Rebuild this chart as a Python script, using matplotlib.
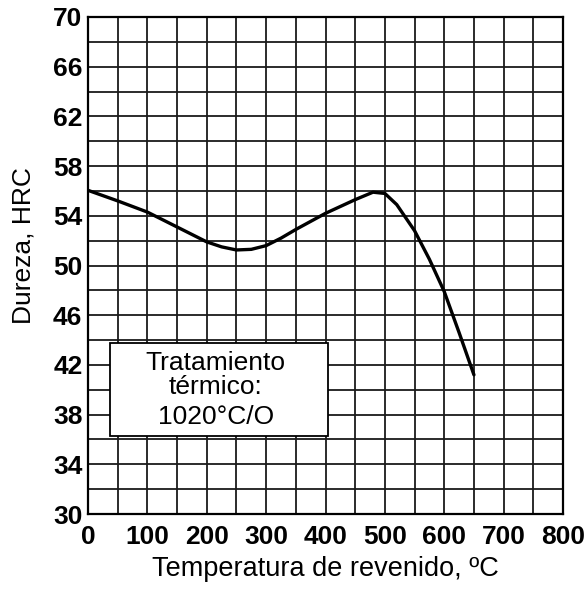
import matplotlib.pyplot as plt
from matplotlib.patches import Rectangle

# Curva de dureza vs temperatura de revenido
temperatura = [0, 50, 100, 150, 200, 225, 250, 275, 300, 325, 350, 400, 450,
               480, 500, 520, 550, 575, 600, 625, 650]
dureza = [56.05, 55.2, 54.3, 53.1, 51.9, 51.5, 51.25, 51.3, 51.6, 52.2, 52.9,
          54.2, 55.3, 55.9, 55.8, 54.9, 52.8, 50.5, 47.9, 44.6, 41.2]

x_ticks = [0, 100, 200, 300, 400, 500, 600, 700, 800]
y_ticks = [30, 34, 38, 42, 46, 50, 54, 58, 62, 66, 70]

plt.rcParams["font.family"] = ["Liberation Sans", "DejaVu Sans"]

fig = plt.figure(figsize=(5.85, 5.89), dpi=100)
ax = fig.add_axes([88 / 585, 1 - 514 / 589, 475 / 585, 497 / 589])

ax.set_xlim(0, 800)
ax.set_ylim(30, 70)

# Cuadrícula: cada 50 °C y cada 2 HRC
for xv in range(50, 800, 50):
    ax.axvline(xv, color="#1a1a1a", lw=1.3, zorder=1)
for yv in range(32, 70, 2):
    ax.axhline(yv, color="#1a1a1a", lw=1.3, zorder=1)

ax.plot(temperatura, dureza, color="black", lw=2.4, zorder=3,
        solid_capstyle="round", solid_joinstyle="round")

# Recuadro del tratamiento térmico
caja = Rectangle((37, 36.3), 367, 7.5, facecolor="white", edgecolor="black",
                 lw=1.3, zorder=4)
ax.add_patch(caja)
ax.text(215, 42.15, "Tratamiento", ha="center", va="center", fontsize=19,
        zorder=5)
ax.text(215, 40.2, "térmico:", ha="center", va="center", fontsize=19,
        zorder=5)
ax.text(215, 37.8, "1020°C/O", ha="center", va="center", fontsize=19,
        zorder=5)

ax.set_xticks(x_ticks)
ax.set_yticks(y_ticks)
ax.tick_params(length=0, labelsize=19)
ax.tick_params(axis="x", pad=8)
ax.tick_params(axis="y", pad=4)
for lab in ax.get_xticklabels() + ax.get_yticklabels():
    lab.set_fontweight("bold")

for s in ax.spines.values():
    s.set_linewidth(1.6)

ax.set_xlabel("Temperatura de revenido, ºC", fontsize=19.5, labelpad=5)
ax.set_ylabel("Dureza, HRC", fontsize=19)
ax.yaxis.set_label_coords(-0.11, 0.54)

plt.savefig("out.png", dpi=100)
